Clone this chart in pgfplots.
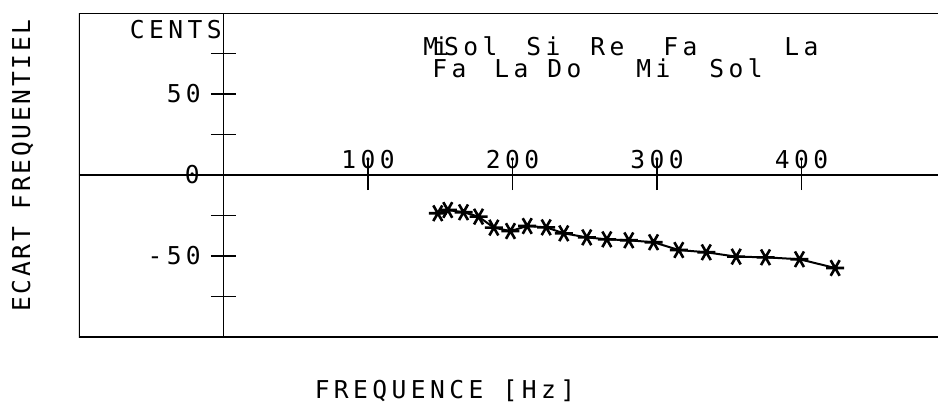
\documentclass[border=0pt]{standalone}
\usepackage{fontspec}
\setmainfont{DejaVu Sans Mono}[LetterSpace=18]
\usepackage{pgfplots}
\pgfplotsset{compat=1.18}
\newcommand{\lbl}{\fontsize{12.3}{14}\selectfont}
\begin{document}
\begin{tikzpicture}[x=1pt,y=1pt]
\begin{axis}[
  at={(0,0)}, anchor=south west,
  scale only axis, width=433.5pt, height=162pt,
  xmin=-100, xmax=500, ymin=-100, ymax=100,
  axis lines=middle,
  axis line style={-, line width=0.8pt},
  xtick={100,200,300,400},
  xticklabels={100,200,300,400},
  ytick={-75,-50,-25,0,25,50,75},
  yticklabels={,-50,,0,,50,},
  tick align=center,
  tick style={line width=0.8pt, black},
  xtick style={/pgfplots/major tick length=15pt},
  ytick style={/pgfplots/major tick length=12.5pt},
  xticklabel style={anchor=south, inner sep=0pt, yshift=5pt},
  yticklabel style={anchor=east, inner sep=0pt, xshift=-9pt},
  ticklabel style={font=\lbl},
]
\addplot[black, line width=1pt, mark=asterisk, mark size=4.5pt,
  mark options={rotate=90, line width=1.3pt}] coordinates {
(148.3,-23.6) (155.2,-21.6) (166.1,-23.0) (176.5,-25.7) (187.1,-32.5)
(198.6,-34.6) (210.2,-31.5) (223.3,-32.3) (235.5,-36.0) (251.4,-38.5)
(265.3,-39.7) (280.5,-40.3) (297.6,-41.5) (315.1,-46.3) (334.1,-47.7)
(354.8,-50.4) (375.1,-50.8) (398.6,-52.0) (423.3,-57.4)
};
\draw[line width=1pt] (rel axis cs:0,0) rectangle (rel axis cs:1,1);
\end{axis}
\begin{scope}[every node/.style={inner sep=0pt, font=\lbl}]
\node[anchor=east] at (60.5pt,81pt) {0};
\node[anchor=north east] at (71.5pt,158.5pt) {CENTS};
\node[rotate=90] at (-28.25pt,85.75pt) {\addfontfeatures{LetterSpace=11}ECART FREQUENTIEL};
\node at (183pt,-27pt) {FREQUENCE [Hz]};
\node[anchor=base west] at (172pt,141pt) {M\makebox[3pt][c]{i}Sol};
\node[anchor=base west] at (223.5pt,141pt) {Si};
\node[anchor=base west] at (255.5pt,141pt) {Re};
\node[anchor=base west] at (292pt,141pt) {Fa};
\node[anchor=base west] at (352.5pt,141pt) {La};
\node[anchor=base west] at (176.5pt,130pt) {Fa};
\node[anchor=base west] at (207.5pt,130pt) {La};
\node[anchor=base west] at (234pt,130pt) {Do};
\node[anchor=base west] at (278.5pt,130pt) {Mi};
\node[anchor=base west] at (315pt,130pt) {Sol};
\end{scope}
\pgfresetboundingbox
\useasboundingbox (-39.5pt,-33pt) rectangle (429.5pt,168.5pt);
\end{tikzpicture}
\end{document}
